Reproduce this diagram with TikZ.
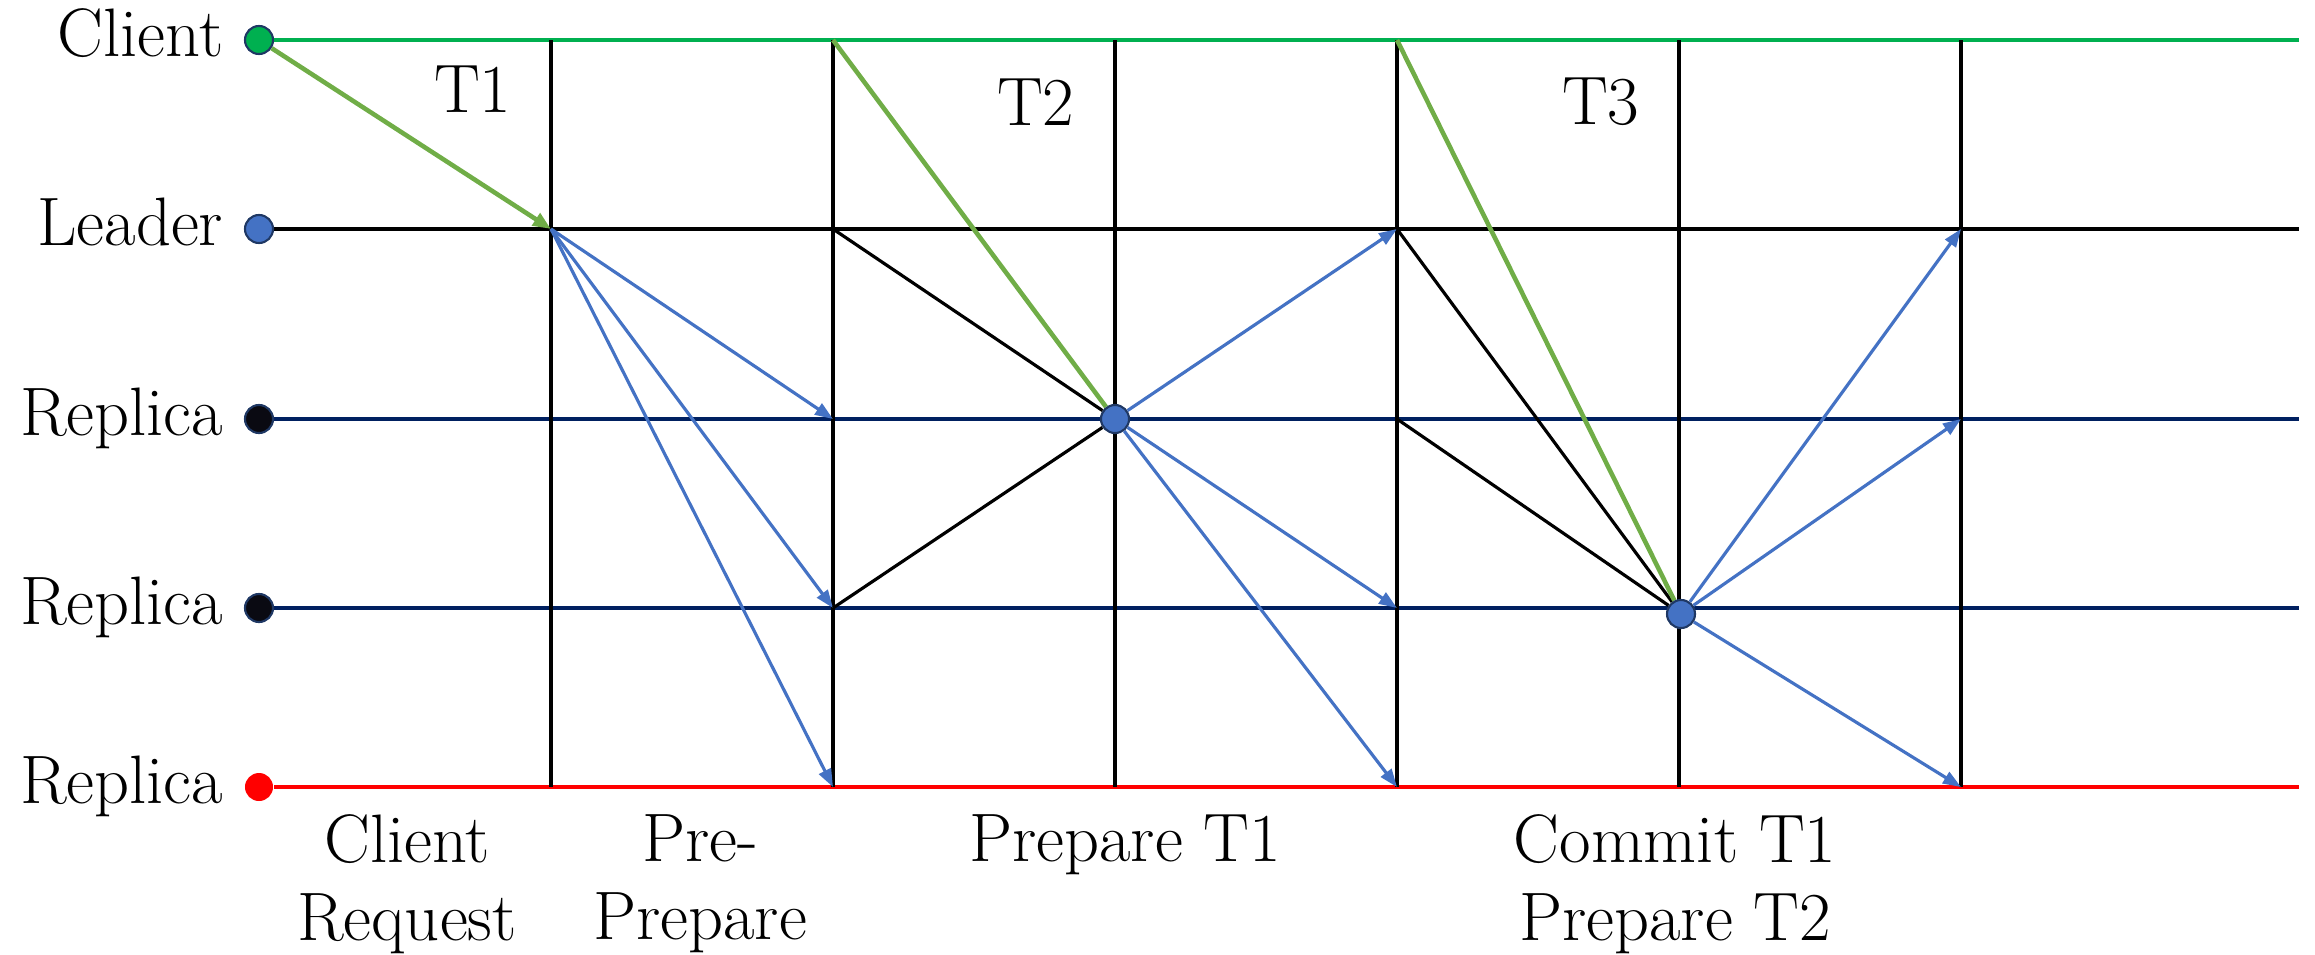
\documentclass[tikz,border=0pt]{standalone}
\usepackage{xcolor}
\usepackage{tikz}
\usetikzlibrary{arrows.meta,positioning,backgrounds,calc}
\definecolor{clientgreen}{HTML}{00B050}
\definecolor{reqgreen}{HTML}{70AD47}
\definecolor{msgblue}{HTML}{4472C4}
\definecolor{lanenavy}{HTML}{002060}
\definecolor{dotedge}{HTML}{1F3864}
\definecolor{faulty}{HTML}{FF0000}
\definecolor{nearblack}{HTML}{0A0A12}
\tikzset{
  proc/.style  ={circle,minimum size=2.8mm,inner sep=0pt,draw=dotedge,line width=0.6pt},
  role/.style  ={inner sep=0pt,anchor=base east,yshift=-1.6mm},
  stage/.style ={inner sep=0pt,align=center,anchor=north},
  lane/.style  ={line width=0.9pt},
  bar/.style   ={line width=1pt,draw=black},
  vote/.style  ={line width=0.9pt,draw=black},
  req/.style   ={-{Triangle[length=1.8mm,width=1.4mm]},line width=1.3pt,draw=reqgreen},
  reqline/.style={line width=1.3pt,draw=reqgreen},
  msg/.style   ={-{Triangle[length=1.8mm,width=1.3mm]},line width=0.9pt,draw=msgblue}
}
\begin{document}
\begin{tikzpicture}[x=0.01cm,y=-0.01cm,font=\fontsize{19.5}{22.2}\selectfont]
  \useasboundingbox (0,0) rectangle (2315,954);
  % processes
  \node[proc,fill=clientgreen] (cl) at (259,40) {};
  \node[proc,fill=msgblue] (ld) at (259,229) {};
  \node[proc,fill=nearblack] (r1) at (259,419) {};
  \node[proc,fill=nearblack] (r2) at (259,608) {};
  \node[proc,fill=faulty,draw=none] (r3) at (259,787) {};
  \node[left=2mm of cl,role] (clName) {Client};
  \node[left=2mm of ld,role] (ldName) {Leader};
  \node[left=2mm of r1,role] (r1Name) {Replica};
  \node[left=2mm of r2,role] (r2Name) {Replica};
  \node[left=2mm of r3,role] (r3Name) {Replica};
  % phase boundaries
  \foreach \i in {0,...,5}
    \coordinate (p\i) at ({551+282*\i},0);
  \coordinate (laneEnd) at (2299,0);
  % points where a request is accepted
  \node[proc,fill=msgblue] (acc1) at (p2 |- r1) {};
  \node[proc,fill=msgblue] (acc2) at ($(p4 |- r2)+(2,6)$) {};
  % transactions
  \node[anchor=east,inner sep=0pt] (t1) at (512,89) {T1};
  \node[anchor=east,inner sep=0pt] (t2) at (1075,102) {T2};
  \node[anchor=east,inner sep=0pt] (t3) at (1640,102) {T3};
  % stages
  \node[stage] (sReq) at (407,814) {Client\\Request};
  \node[stage] (sPre) at (700,814) {Pre-\\Prepare};
  \node[stage] (sPrep) at (1125,814) {Prepare T1};
  \node[stage] (sCom) at (1675,814) {Commit T1\\Prepare T2};
  \begin{scope}[on background layer]
    \draw[lane,draw=clientgreen] (cl) -- (cl -| laneEnd);
    \draw[lane,draw=black] (ld) -- (ld -| laneEnd);
    \draw[lane,draw=lanenavy] (r1) -- (r1 -| laneEnd);
    \draw[lane,draw=lanenavy] (r2) -- (r2 -| laneEnd);
    \draw[lane,draw=faulty,line width=1pt] (r3) -- (r3 -| laneEnd);
    \foreach \i in {0,...,5}
      \draw[bar] (p\i |- cl) -- (p\i |- r3);
    % T1: request and pre-prepare
    \draw[req] (cl) -- (p0 |- ld);
    \foreach \r in {r1,r2,r3}
      \draw[msg] (p0 |- ld) -- (p1 |- \r);
    % T2 arrives while T1 is prepared
    \draw[vote] (p1 |- ld) -- (acc1);
    \draw[vote] (p1 |- r2) -- (acc1);
    \draw[reqline] (p1 |- cl) -- (acc1);
    \foreach \r in {ld,r2,r3}
      \draw[msg] (acc1) -- (p3 |- \r);
    % T3 arrives while T1 commits
    \draw[vote] (p3 |- ld) -- (acc2);
    \draw[vote] (p3 |- r1) -- (acc2);
    \draw[reqline] (p3 |- cl) -- (acc2);
    \foreach \r in {ld,r1,r3}
      \draw[msg] (acc2) -- (p5 |- \r);
  \end{scope}
\end{tikzpicture}
\end{document}
